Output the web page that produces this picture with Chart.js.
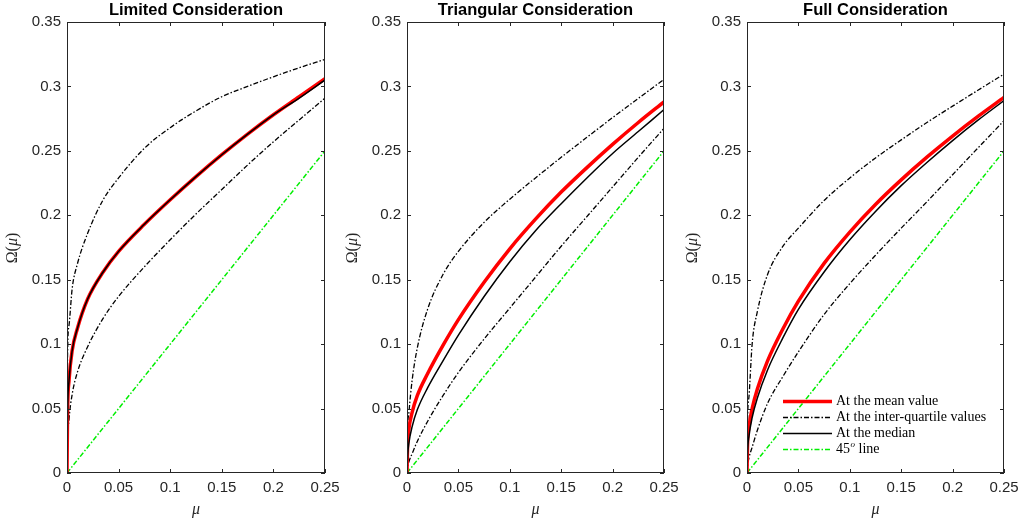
<!DOCTYPE html>
<html>
<head>
<meta charset="utf-8">
<script src="https://cdn.jsdelivr.net/npm/chart.js@4.4.1/dist/chart.umd.min.js"></script>
<style>
  body { margin: 0; background: #fff; }
  canvas { position: absolute; top: 0; }
</style>
</head>
<body>
<canvas id="limited" width="340" height="525" style="left:0px"></canvas>
<canvas id="triangular" width="340" height="525" style="left:340px"></canvas>
<canvas id="full" width="342" height="525" style="left:680px"></canvas>
<script>
// axis ticks
const xTickLabels = ['0', '0.05', '0.1', '0.15', '0.2', '0.25'];
const yTickLabels = ['0', '0.05', '0.1', '0.15', '0.2', '0.25', '0.3', '0.35'];

const muGrid = [0, 0.0005, 0.002, 0.005, 0.01, 0.02, 0.035, 0.05, 0.075, 0.1, 0.125, 0.15, 0.175, 0.2, 0.225, 0.25];

// 45 degree line
const diagMu = [0, 0.25];
const diagOmega = [0, 0.25];

// Limited Consideration
const limitedMean   = [0, 0.045, 0.072, 0.095, 0.112, 0.135, 0.156, 0.172, 0.193, 0.212, 0.23, 0.247, 0.263, 0.278, 0.292, 0.306];
const limitedMedian = [0, 0.045, 0.072, 0.095, 0.112, 0.135, 0.156, 0.172, 0.193, 0.212, 0.23, 0.247, 0.263, 0.278, 0.291, 0.305];
const limitedUpper  = [0, 0.09, 0.115, 0.143, 0.162, 0.186, 0.212, 0.229, 0.252, 0.268, 0.281, 0.292, 0.3, 0.3075, 0.3145, 0.321];
const limitedLower  = [0, 0.022, 0.042, 0.061, 0.078, 0.098, 0.12, 0.137, 0.16, 0.181, 0.201, 0.22, 0.239, 0.257, 0.274, 0.291];

// Triangular Consideration
const triMean   = [0, 0.02, 0.035, 0.047, 0.06, 0.077, 0.099, 0.119, 0.148, 0.174, 0.197, 0.218, 0.237, 0.255, 0.272, 0.288];
const triMedian = [0, 0.012, 0.024, 0.036, 0.049, 0.066, 0.087, 0.107, 0.137, 0.164, 0.188, 0.209, 0.229, 0.248, 0.265, 0.282];
const triUpper  = [0, 0.03, 0.048, 0.072, 0.097, 0.127, 0.154, 0.172, 0.1945, 0.2125, 0.229, 0.245, 0.2605, 0.2758, 0.2907, 0.3055];
const triLower  = [0, 0.004, 0.009, 0.015, 0.0245, 0.04, 0.06, 0.078, 0.104, 0.128, 0.152, 0.176, 0.199, 0.222, 0.245, 0.2675];

// Full Consideration
const fullMean   = [0, 0.022, 0.036, 0.05, 0.065, 0.087, 0.112, 0.1334, 0.1627, 0.187, 0.2084, 0.2275, 0.2451, 0.2615, 0.2769, 0.2915];
const fullMedian = [0, 0.016, 0.029, 0.043, 0.058, 0.08, 0.105, 0.127, 0.156, 0.181, 0.203, 0.223, 0.241, 0.258, 0.274, 0.289];
const fullUpper  = [0, 0.04, 0.06, 0.1, 0.125, 0.154, 0.176, 0.19, 0.2115, 0.229, 0.2445, 0.2585, 0.272, 0.2847, 0.2972, 0.3096];
const fullLower  = [0, 0.005, 0.012, 0.02, 0.033, 0.054, 0.075, 0.094, 0.123, 0.147, 0.169, 0.19, 0.2105, 0.2315, 0.2525, 0.2734];

const legendLabels = ['At the mean value', 'At the inter-quartile values', 'At the median', '45', 'o', ' line'];

const AXIS_COLOR = '#262626';
const GREEN = '#00ee00';
const DASHDOT = [5, 2, 1.5, 2];
const SERIF = '"Liberation Serif", serif';
const SANS = '"Liberation Sans", Arial, sans-serif';

function pts(mu, omega) {
    return mu.map((m, i) => ({x: m, y: omega[i]}));
}

function line(data, color, width, dash) {
    return {
        data: data,
        showLine: true,
        borderColor: color,
        borderWidth: width,
        borderDash: dash || [],
        pointRadius: 0,
        cubicInterpolationMode: 'monotone',
        fill: false,
    };
}

function drawLegend(chart) {
    const ctx = chart.ctx;
    const x0 = 103, x1 = 152, tx = 156;
    const rows = [401.5, 417.5, 433.5, 449.5];
    ctx.save();
    ctx.lineCap = 'butt';
    ctx.strokeStyle = '#ff0000'; ctx.lineWidth = 3.5; ctx.setLineDash([]);
    ctx.beginPath(); ctx.moveTo(x0, rows[0]); ctx.lineTo(x1, rows[0]); ctx.stroke();
    ctx.strokeStyle = '#000'; ctx.lineWidth = 1.3; ctx.setLineDash(DASHDOT);
    ctx.beginPath(); ctx.moveTo(x0, rows[1]); ctx.lineTo(x1, rows[1]); ctx.stroke();
    ctx.lineWidth = 1.5; ctx.setLineDash([]);
    ctx.beginPath(); ctx.moveTo(x0, rows[2]); ctx.lineTo(x1, rows[2]); ctx.stroke();
    ctx.strokeStyle = GREEN; ctx.lineWidth = 1.5; ctx.setLineDash(DASHDOT);
    ctx.beginPath(); ctx.moveTo(x0, rows[3]); ctx.lineTo(x1, rows[3]); ctx.stroke();

    ctx.fillStyle = '#000';
    ctx.textBaseline = 'middle';
    ctx.textAlign = 'left';
    ctx.font = '14px ' + SERIF;
    for (let i = 0; i < 3; i++) ctx.fillText(legendLabels[i], tx, rows[i]);
    let x = tx;
    ctx.fillText(legendLabels[3], x, rows[3]);
    x += ctx.measureText(legendLabels[3]).width;
    ctx.font = 'italic 9px ' + SERIF;
    ctx.fillText(legendLabels[4], x + 0.5, rows[3] - 5);
    x += ctx.measureText(legendLabels[4]).width + 0.5;
    ctx.font = '14px ' + SERIF;
    ctx.fillText(legendLabels[5], x, rows[3]);
    ctx.restore();
}

const framePlugin = {
    id: 'frame',
    afterDraw(chart, args, opts) {
        const ctx = chart.ctx;
        const a = chart.chartArea;
        const xs = chart.scales.x, ys = chart.scales.y;
        ctx.save();
        ctx.strokeStyle = AXIS_COLOR;
        ctx.lineWidth = 1;
        ctx.setLineDash([]);
        ctx.strokeRect(a.left + 0.5, a.top + 0.5, a.right - a.left - 1, a.bottom - a.top - 1);
        ctx.beginPath();
        xs.ticks.forEach(t => {
            const px = Math.round(xs.getPixelForValue(t.value)) + 0.5;
            ctx.moveTo(px, a.bottom); ctx.lineTo(px, a.bottom - 4);
            ctx.moveTo(px, a.top); ctx.lineTo(px, a.top + 4);
        });
        ys.ticks.forEach(t => {
            const py = Math.round(ys.getPixelForValue(t.value)) + 0.5;
            ctx.moveTo(a.left, py); ctx.lineTo(a.left + 4, py);
            ctx.moveTo(a.right, py); ctx.lineTo(a.right - 4, py);
        });
        ctx.stroke();

        // title
        const cx = (a.left + a.right) / 2;
        ctx.fillStyle = '#000';
        ctx.textAlign = 'center';
        ctx.textBaseline = 'alphabetic';
        ctx.font = 'bold 16.5px ' + SANS;
        ctx.fillText(opts.title, cx, 15);

        // axis labels
        ctx.fillStyle = AXIS_COLOR;
        ctx.font = 'italic 16px ' + SERIF;
        ctx.textBaseline = 'middle';
        ctx.fillText('\u03bc', cx, 510);
        ctx.save();
        ctx.translate(a.left - 54, 248);
        ctx.rotate(-Math.PI / 2);
        ctx.font = '16px ' + SERIF;
        const w1 = ctx.measureText('\u03a9(').width;
        ctx.font = 'italic 16px ' + SERIF;
        const w2 = ctx.measureText('\u03bc').width;
        ctx.font = '16px ' + SERIF;
        const w3 = ctx.measureText(')').width;
        let x = -(w1 + w2 + w3) / 2;
        ctx.textAlign = 'left';
        ctx.fillText('\u03a9(', x, 0);
        ctx.font = 'italic 16px ' + SERIF;
        ctx.fillText('\u03bc', x + w1, 0);
        ctx.font = '16px ' + SERIF;
        ctx.fillText(')', x + w1 + w2, 0);
        ctx.restore();

        if (opts.legend) drawLegend(chart);
        ctx.restore();
    }
};

function makePanel(id, title, mean, median, upper, lower, rightPad, legend) {
    new Chart(document.getElementById(id), {
        type: 'scatter',
        data: {
            datasets: [
                line(pts(muGrid, median), '#000000', 1.5),
                line(pts(muGrid, mean), '#ff0000', 3.5),
                line(pts(muGrid, upper), '#000000', 1.3, DASHDOT),
                line(pts(muGrid, lower), '#000000', 1.3, DASHDOT),
                line(pts(diagMu, diagOmega), GREEN, 1.5, DASHDOT),
            ]
        },
        options: {
            responsive: false,
            animation: false,
            devicePixelRatio: 1,
            layout: {padding: {top: 22, right: rightPad, left: 0, bottom: 0}},
            plugins: {
                legend: {display: false},
                tooltip: {enabled: false},
                frame: {title: title, legend: legend},
            },
            scales: {
                x: {
                    type: 'linear',
                    min: 0,
                    max: 0.25,
                    grid: {display: false, drawTicks: false},
                    border: {display: false},
                    afterFit: s => { s.height = 52; s.paddingLeft = 0; s.paddingRight = 0; },
                    ticks: {
                        stepSize: 0.05,
                        padding: 6,
                        maxRotation: 0,
                        color: AXIS_COLOR,
                        font: {family: SANS, size: 15},
                        callback: (v, i) => xTickLabels[i],
                    },
                },
                y: {
                    type: 'linear',
                    min: 0,
                    max: 0.35,
                    grid: {display: false, drawTicks: false},
                    border: {display: false},
                    afterFit: s => { s.width = 67; s.paddingTop = 0; s.paddingBottom = 0; },
                    ticks: {
                        stepSize: 0.05,
                        padding: 6,
                        color: AXIS_COLOR,
                        font: {family: SANS, size: 15},
                        callback: (v, i) => yTickLabels[i],
                    },
                },
            },
        },
        plugins: [framePlugin],
    });
}

makePanel('limited', 'Limited Consideration', limitedMean, limitedMedian, limitedUpper, limitedLower, 15, false);
makePanel('triangular', 'Triangular Consideration', triMean, triMedian, triUpper, triLower, 16, false);
makePanel('full', 'Full Consideration', fullMean, fullMedian, fullUpper, fullLower, 18, true);
</script>
</body>
</html>
